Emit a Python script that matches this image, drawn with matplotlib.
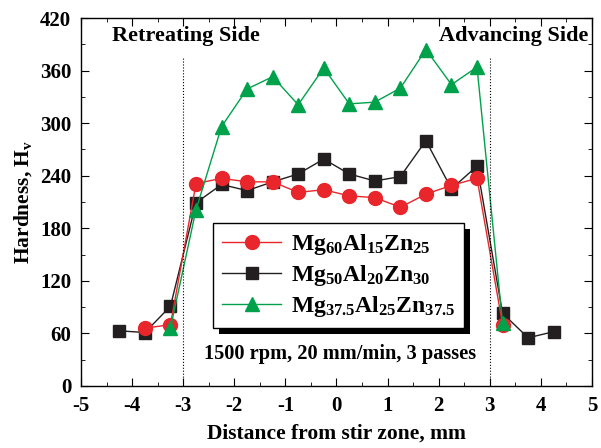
import matplotlib
matplotlib.use('Agg')
import matplotlib.pyplot as plt
from matplotlib.patches import Rectangle
from matplotlib.transforms import IdentityTransform
from matplotlib.ticker import MultipleLocator

plt.rcParams['font.family'] = 'Liberation Serif'
plt.rcParams['font.weight'] = 'bold'
plt.rcParams['mathtext.fontset'] = 'custom'
plt.rcParams['mathtext.rm'] = 'Liberation Serif:bold'
plt.rcParams['mathtext.default'] = 'rm'
plt.rcParams['axes.unicode_minus'] = False

# hardness profiles
x_red = [-3.75, -3.25, -2.75, -2.25, -1.75, -1.25, -0.75, -0.25, 0.25, 0.75, 1.25, 1.75, 2.25, 2.75, 3.25]
y_red = [66, 70, 231, 237, 233, 233, 221, 224, 217, 215, 204, 219, 229, 237, 70]

x_blk = [-4.25, -3.75, -3.25, -2.75, -2.25, -1.75, -1.25, -0.75, -0.25, 0.25, 0.75, 1.25, 1.75, 2.25, 2.75, 3.25, 3.75, 4.25]
y_blk = [63, 61, 91, 209, 230, 223, 233, 242, 259, 242, 234, 239, 280, 225, 251, 83, 55, 62]

x_grn = [-3.25, -2.75, -2.25, -1.75, -1.25, -0.75, -0.25, 0.25, 0.75, 1.25, 1.75, 2.25, 2.75, 3.25]
y_grn = [66, 201, 296, 339, 353, 321, 363, 322, 324, 340, 384, 344, 364, 72]

labels = [r'Mg$_{60}$Al$_{15}$Zn$_{25}$',
          r'Mg$_{50}$Al$_{20}$Zn$_{30}$',
          r'Mg$_{37.5}$Al$_{25}$Zn$_{37.5}$']

fig = plt.figure(figsize=(6.01, 4.48), dpi=100)
ax = fig.add_axes([0.1348, 0.1384, 0.8502, 0.8214])

hb, = ax.plot(x_blk, y_blk, '-s', color='#231f20', lw=1, ms=8.5, label=labels[1])
hr, = ax.plot(x_red, y_red, '-o', color='#e8262b', lw=1, ms=10, label=labels[0])
hg, = ax.plot(x_grn, y_grn, '-^', color='#00a14b', lw=1, ms=10.5, label=labels[2])

ax.plot([-3, -3], [0, 374], ':', color='k', lw=0.8)
ax.plot([3, 3], [0, 374], ':', color='k', lw=0.8)

ax.set_xlim(-5, 5)
ax.set_ylim(0, 420)
ax.xaxis.set_major_locator(MultipleLocator(1))
ax.xaxis.set_minor_locator(MultipleLocator(0.5))
ax.yaxis.set_major_locator(MultipleLocator(60))
ax.yaxis.set_minor_locator(MultipleLocator(30))
ax.tick_params(which='both', direction='in', top=True, right=True, labelsize=15, pad=7)
ax.tick_params(which='major', length=6)
ax.tick_params(which='minor', length=3)
for s in ax.spines.values():
    s.set_linewidth(1)

ax.set_xlabel('Distance from stir zone, mm', fontsize=15.5, fontweight='bold', labelpad=6)
ax.set_ylabel(r'Hardness, H$_{\mathrm{v}}$', fontsize=15.5, fontweight='bold', labelpad=4)

ax.text(-4.4, 400, 'Retreating Side', fontsize=16, fontweight='bold', va='center', ha='left')
ax.text(4.92, 400, 'Advancing Side', fontsize=16, fontweight='bold', va='center', ha='right')
ax.text(0.07, 36, '1500 rpm, 20 mm/min, 3 passes', fontsize=14.7, fontweight='bold', va='center', ha='center')

leg = ax.legend(handles=[hr, hb, hg], loc='center', bbox_to_anchor=(0.504, 0.30), fontsize=17,
                frameon=True, fancybox=False, edgecolor='k', framealpha=1,
                borderpad=0.4, labelspacing=0.25, handlelength=2.5, handletextpad=0.4)
leg.get_frame().set_linewidth(1)
leg.set_zorder(5)

fig.canvas.draw()
bb = leg.get_window_extent()
shadow = Rectangle((bb.x0 + 6, bb.y0 - 6), bb.width, bb.height, transform=IdentityTransform(),
                   facecolor='k', edgecolor='none', zorder=4)
ax.add_artist(shadow)

fig.savefig('out.png', dpi=100)
